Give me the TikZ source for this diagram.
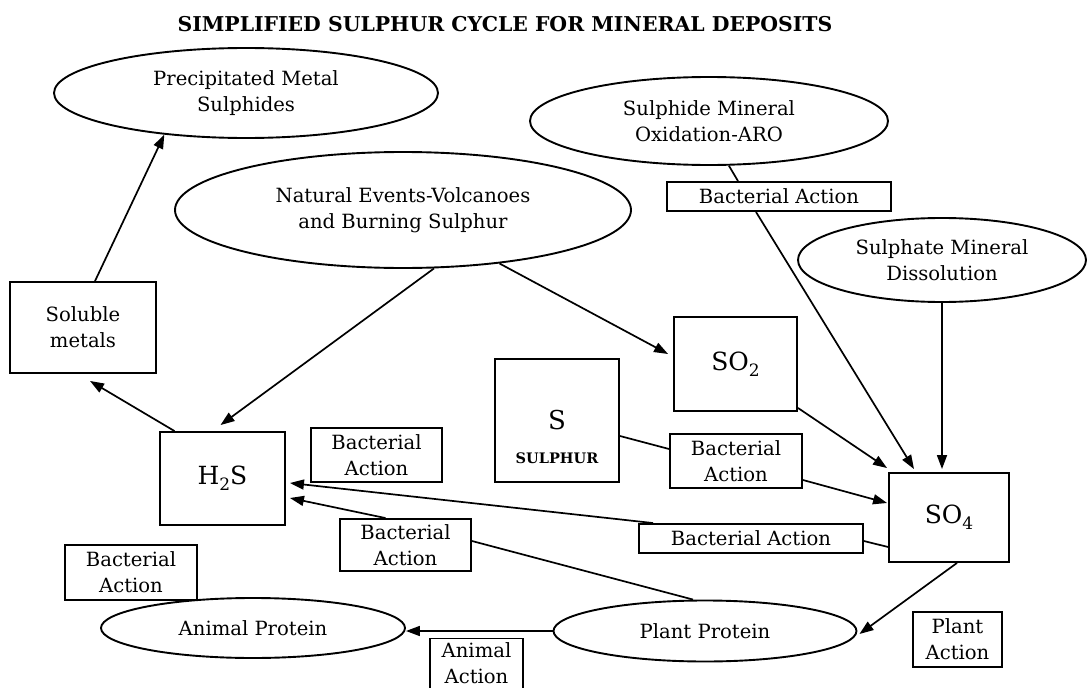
\documentclass[tikz,border=0pt]{standalone}
\usepackage{fontspec}
\setmainfont{DejaVu Serif}
\usetikzlibrary{shapes.geometric,arrows.meta,calc}
\newcommand{\chsub}[1]{\raisebox{-6pt}{\fontsize{17}{17}\selectfont #1}}
\begin{document}
\begin{tikzpicture}[x=1pt,y=-1pt,
  every node/.style={font=\fontsize{19.6}{26}\selectfont, align=center, inner sep=0pt},
  box/.style={draw, line width=1.9pt, rectangle},
  oval/.style={draw, line width=1.9pt, ellipse},
  conn/.style={line width=1.7pt},
  arr/.style={conn, -{Triangle[length=14pt,width=10pt]}}]
\fill[white] (0,0) rectangle (1088,688);
\useasboundingbox (0,0) rectangle (1088,688);

% title
\node (title) at (505,24) {\fontsize{20.4}{24}\selectfont\bfseries SIMPLIFIED SULPHUR CYCLE FOR MINERAL DEPOSITS};

% ellipses
\node[oval, minimum width=384pt, minimum height=90pt] (prec) at (246,93) {Precipitated Metal\\Sulphides};
\node[oval, minimum width=358pt, minimum height=88pt] (sulphide) at (709,121) {Sulphide Mineral\\Oxidation-ARO};
\node[oval, minimum width=456pt, minimum height=116pt] (natural) at (403,210) {Natural Events-Volcanoes\\and Burning Sulphur};
\node[oval, minimum width=288pt, minimum height=84pt] (sulphate) at (942,260) {Sulphate Mineral\\Dissolution};
\node[oval, minimum width=304pt, minimum height=60pt] (animal) at (253,628) {Animal Protein};
\node[oval, minimum width=303pt, minimum height=61pt] (plant) at (705,631) {Plant Protein};

% boxes
\node[box, minimum width=224pt, minimum height=29pt] (bactTop) at (779,196.5) {Bacterial Action};
\node[box, minimum width=146pt, minimum height=91pt] (soluble) at (83,327.5) {Soluble\\metals};
\node[box, minimum width=123pt, minimum height=94pt] (so2) at (735.5,364) {\fontsize{25}{25}\selectfont SO\chsub{2}};
\node[box, minimum width=124pt, minimum height=123pt] (s) at (557,420.5) {\fontsize{26}{26}\selectfont S};
\node (sulphur) at ($(s.center)+(0,38)$) {\fontsize{14.5}{14.5}\selectfont\bfseries SULPHUR};
\node[box, minimum width=125pt, minimum height=93pt] (h2s) at (222.5,478.5) {\fontsize{25}{25}\selectfont H\chsub{2}S};
\node[box, minimum width=131pt, minimum height=54pt] (bactH) at (376.5,455) {Bacterial\\Action};
\node[box, minimum width=132pt, minimum height=54pt] (bactS) at (736,461) {Bacterial\\Action};
\node[box, minimum width=120pt, minimum height=89pt] (so4) at (949,517.5) {\fontsize{25}{25}\selectfont SO\chsub{4}};
\node[box, minimum width=224pt, minimum height=29pt] (bactLong) at (751,538.5) {Bacterial Action};
\node[box, minimum width=131pt, minimum height=52pt] (bactLow) at (405.5,545) {Bacterial\\Action};
\node[box, minimum width=132pt, minimum height=55pt] (bactLeft) at (131,572.5) {Bacterial\\Action};
\node[box, minimum width=93pt, minimum height=50pt] (animalAct) at (476.5,663.5) {Animal\\Action};
\node[box, minimum width=89pt, minimum height=55pt] (plantAct) at (957.5,639.5) {Plant\\Action};

% connectors
\draw[arr] ($(soluble.north)+(12,0)$) -- (prec.207);
\draw[arr] (natural.298) -- ($(h2s.north)+(-2,-6)$);
\draw[arr] (natural.331) -- ($(so2.west)+(-5,-10)$);
\draw[arr] ($(h2s.north)+(-48,0)$) -- ($(soluble.south)+(7,7)$);
\draw[conn] (sulphide.294) -- ($(bactTop.north)+(-41,0)$);
\draw[arr] ($(bactTop.south)+(-23,0)$) -- ($(so4.north)+(-35,-3)$);
\draw[arr] (sulphate.south) -- ($(sulphate.south |- so4.north)+(0,-3)$);
\draw[arr] ($(so2.south east)+(0,-4)$) -- ($(so4.north west)+(-1,-4)$);
\draw[conn] ($(s.east)+(0,15.5)$) -- ($(bactS.west)+(0,-12)$);
\draw[arr] ($(bactS.east)+(0,19)$) -- ($(so4.west)+(-1,-14.5)$);
\draw[conn] ($(so4.west)+(0,29.5)$) -- ($(bactLong.east)+(0,2.5)$);
\draw[arr] ($(bactLong.north west)+(15,0)$) -- ($(h2s.east)+(4,4.5)$);
\draw[arr] ($(bactLow.north)+(-20,0)$) -- ($(h2s.east)+(4,19.5)$);
\draw[conn] ($(plant.north)+(-12,0)$) -- ($(bactLow.east)+(0,-4)$);
\draw[arr] (plant.west) -- (plant.west -| animal.east);
\draw[arr] ($(so4.south)+(8,0)$) -- ($(plant.east)+(2,3)$);
\end{tikzpicture}
\end{document}
